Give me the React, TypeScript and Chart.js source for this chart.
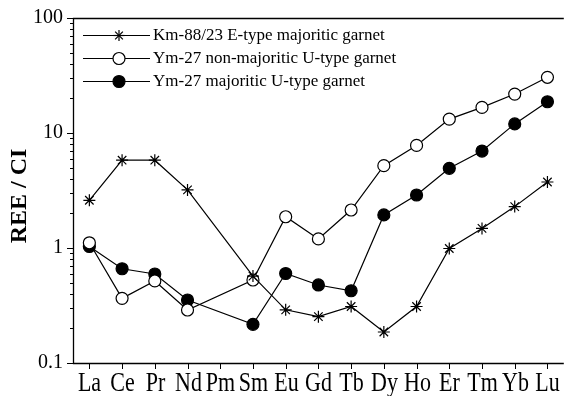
import React, { useEffect, useRef } from "react";
import { Chart, registerables } from "chart.js";

Chart.register(...registerables);

// Chondrite-normalised REE patterns
const elements = ["La", "Ce", "Pr", "Nd", "Pm", "Sm", "Eu", "Gd", "Tb", "Dy", "Ho", "Er", "Tm", "Yb", "Lu"];
const km88EType: (number | null)[] = [2.6, 5.8, 5.8, 3.2, null, 0.57, 0.29, 0.253, 0.31, 0.186, 0.31, 0.99, 1.48, 2.29, 3.75];
const ym27NonMajoritic: (number | null)[] = [1.11, 0.365, 0.517, 0.289, null, 0.527, 1.87, 1.2, 2.14, 5.2, 7.8, 13.2, 16.7, 21.8, 30.5];
const ym27Majoritic: (number | null)[] = [1.03, 0.66, 0.594, 0.353, null, 0.217, 0.6, 0.477, 0.425, 1.94, 2.89, 4.93, 6.97, 12.0, 18.7];
const seriesNames = [
  "Km-88/23 E-type majoritic garnet",
  "Ym-27 non-majoritic U-type garnet",
  "Ym-27 majoritic U-type garnet",
];
const yMin = 0.1;
const yMax = 100;

const FONT = "'Liberation Serif', 'Times New Roman', serif";

const framePlugin = {
  id: "frame",
  afterDraw(chart: any) {
    const { ctx, chartArea } = chart;
    const { left, top, right, bottom } = chartArea;
    const yScale = chart.scales.y;
    const xScale = chart.scales.x;
    ctx.save();
    ctx.strokeStyle = "#000";
    ctx.lineWidth = 1.3;
    // frame: left, top, bottom
    ctx.beginPath();
    ctx.moveTo(right, top + 0.5);
    ctx.lineTo(left + 0.5, top + 0.5);
    ctx.lineTo(left + 0.5, bottom + 0.5);
    ctx.lineTo(right, bottom + 0.5);
    ctx.stroke();

    // y ticks, major and minor, outward
    ctx.lineWidth = 1;
    for (let e = -1; e <= 2; e++) {
      for (let m = 1; m <= 9; m++) {
        const v = m * Math.pow(10, e);
        if (v < yMin - 1e-9 || v > yMax + 1e-9) continue;
        const py = Math.round(yScale.getPixelForValue(v)) + 0.5;
        const len = m === 1 ? 6 : 3;
        ctx.beginPath();
        ctx.moveTo(left, py);
        ctx.lineTo(left - len, py);
        ctx.stroke();
      }
    }
    // x ticks (outward) and element labels, set in a tall serif face
    elements.forEach((name, i) => {
      const px = Math.round(xScale.getPixelForValue(i)) + 0.5;
      ctx.beginPath();
      ctx.moveTo(px, bottom);
      ctx.lineTo(px, bottom + 6);
      ctx.stroke();
      ctx.save();
      ctx.translate(px, 391);
      ctx.scale(1, 1.2);
      ctx.font = `22px ${FONT}`;
      ctx.fillStyle = "#000";
      ctx.textAlign = "center";
      ctx.textBaseline = "alphabetic";
      ctx.fillText(name, 0, 0);
      ctx.restore();
    });

    // y axis title
    ctx.save();
    ctx.translate(20, 196);
    ctx.rotate(-Math.PI / 2);
    ctx.font = `bold 24px ${FONT}`;
    ctx.fillStyle = "#000";
    ctx.textAlign = "center";
    ctx.textBaseline = "middle";
    ctx.fillText("REE / CI", 0, 0);
    ctx.restore();

    // legend
    const rows = [35, 58, 81];
    chart.data.datasets.forEach((ds: any, i: number) => {
      const y = rows[i] + 0.5;
      ctx.strokeStyle = "#000";
      ctx.lineWidth = 1;
      ctx.beginPath();
      ctx.moveTo(83, y);
      ctx.lineTo(150, y);
      ctx.stroke();
      const cx = 119;
      if (ds.pointStyle === "star") {
        ctx.lineWidth = 1.2;
        const r = 5.5;
        for (let k = 0; k < 4; k++) {
          const a = (k * Math.PI) / 4;
          ctx.beginPath();
          ctx.moveTo(cx - r * Math.cos(a), y - r * Math.sin(a));
          ctx.lineTo(cx + r * Math.cos(a), y + r * Math.sin(a));
          ctx.stroke();
        }
      } else {
        ctx.beginPath();
        ctx.arc(cx, y, 6, 0, Math.PI * 2);
        ctx.fillStyle = ds.pointBackgroundColor;
        ctx.fill();
        ctx.lineWidth = 1.2;
        ctx.stroke();
      }
      ctx.fillStyle = "#000";
      ctx.font = `17px ${FONT}`;
      ctx.textAlign = "left";
      ctx.textBaseline = "middle";
      ctx.fillText(ds.label, 153, y);
    });
    ctx.restore();
  },
};

export default function App() {
  const canvasRef = useRef<HTMLCanvasElement | null>(null);

  useEffect(() => {
    document.body.style.margin = "0";
    const canvas = canvasRef.current;
    if (!canvas) return;
    const common = {
      borderColor: "#000",
      borderWidth: 1.2,
      pointBorderColor: "#000",
      pointBorderWidth: 1.2,
      spanGaps: true,
      tension: 0,
    };
    const chart = new Chart(canvas, {
      type: "line",
      data: {
        labels: elements,
        datasets: [
          {
            ...common,
            label: seriesNames[0],
            data: km88EType,
            pointStyle: "star",
            pointRadius: 6,
            pointBackgroundColor: "#000",
          },
          {
            ...common,
            label: seriesNames[1],
            data: ym27NonMajoritic,
            pointStyle: "circle",
            pointRadius: 6,
            pointBackgroundColor: "#fff",
          },
          {
            ...common,
            label: seriesNames[2],
            data: ym27Majoritic,
            pointStyle: "circle",
            pointRadius: 6,
            pointBackgroundColor: "#000",
          },
        ],
      },
      options: {
        animation: false,
        responsive: false,
        devicePixelRatio: 1,
        layout: { padding: { top: 18, right: 0, left: 0, bottom: 0 } },
        plugins: { legend: { display: false }, tooltip: { enabled: false } },
        scales: {
          x: {
            type: "category",
            offset: true,
            grid: { display: false, drawTicks: false },
            border: { display: false },
            ticks: { display: false },
            afterFit(scale: any) {
              scale.height = 33;
              scale.paddingLeft = 0;
              scale.paddingRight = 0;
            },
          },
          y: {
            type: "logarithmic",
            min: yMin,
            max: yMax,
            grid: { display: false, drawTicks: false },
            border: { display: false },
            ticks: {
              color: "#000",
              font: { family: FONT, size: 20 },
              padding: 10,
              autoSkip: false,
              callback(value: any) {
                const v = Number(value);
                const l = Math.log10(v);
                if (Math.abs(l - Math.round(l)) < 1e-9) return String(v);
                return "";
              },
            },
            afterFit(scale: any) {
              scale.width = 73;
              scale.paddingTop = 0;
              scale.paddingBottom = 0;
            },
          },
        },
      },
      plugins: [framePlugin],
    } as any);
    return () => chart.destroy();
  }, []);

  return (
    <div style={{ position: "fixed", left: 0, top: 0, width: 571, height: 396, background: "#fff" }}>
      <canvas ref={canvasRef} width={571} height={396} style={{ display: "block" }} />
    </div>
  );
}
